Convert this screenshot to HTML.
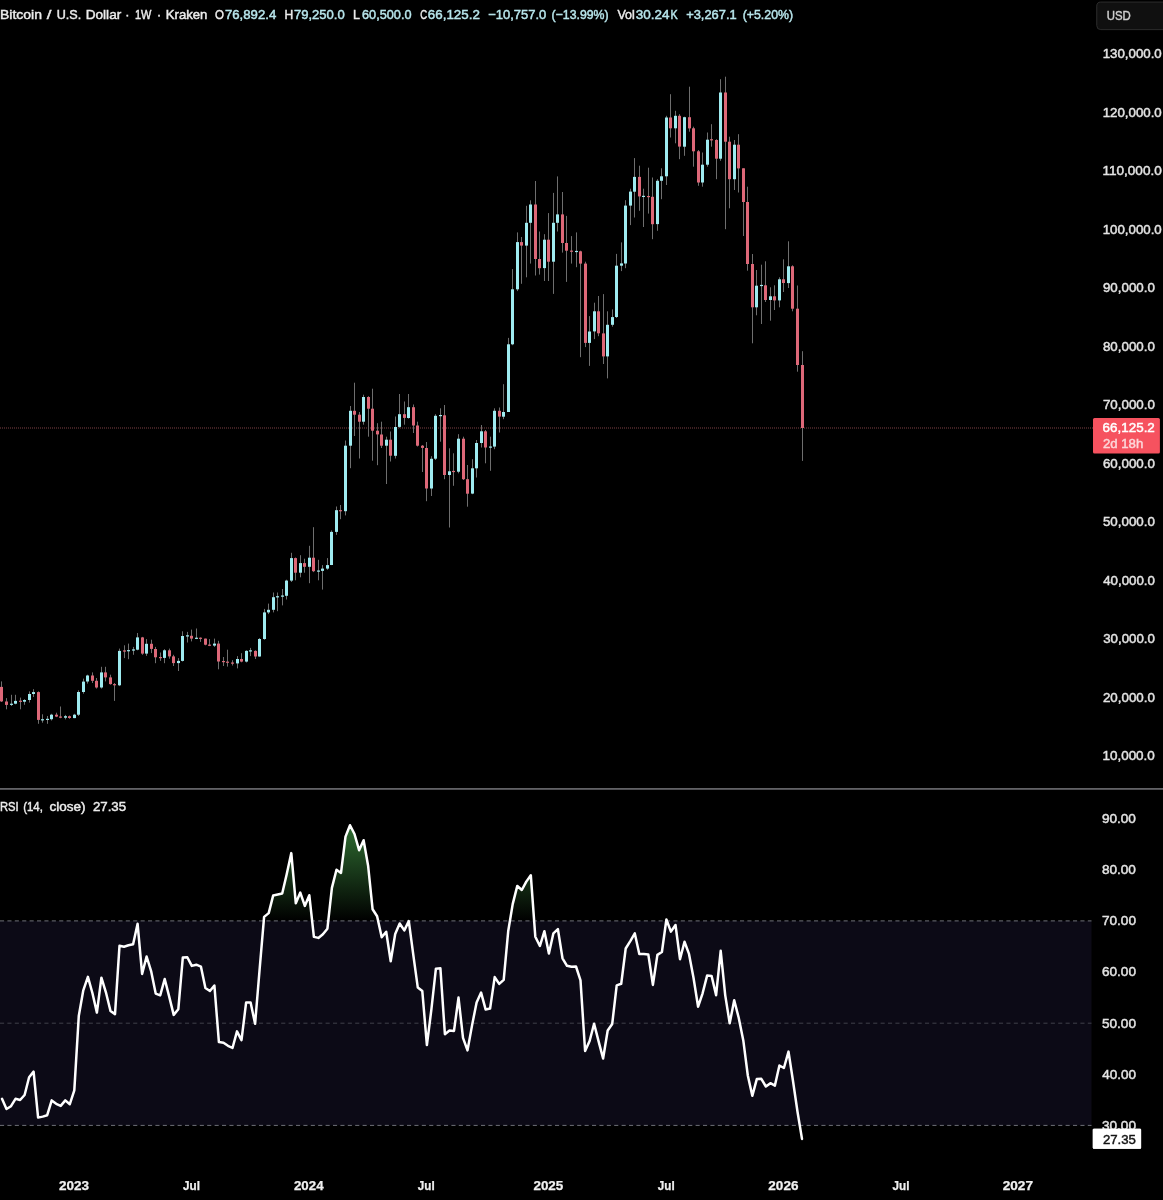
<!DOCTYPE html>
<html lang="en"><head><meta charset="utf-8"><title>BTCUSD 1W Kraken</title>
<style>html,body{margin:0;padding:0;background:#000;}body{width:1163px;height:1200px;overflow:hidden;}svg{display:block;}text{font-family:"Liberation Sans",sans-serif;}</style></head><body>
<svg width="1163" height="1200" viewBox="0 0 1163 1200">
<rect width="1163" height="1200" fill="#000"/>
<defs><linearGradient id="ob" x1="0" y1="767.5" x2="0" y2="920.9" gradientUnits="userSpaceOnUse"><stop offset="0" stop-color="#4caf50" stop-opacity="1"/><stop offset="1" stop-color="#4caf50" stop-opacity="0"/></linearGradient></defs>
<line x1="0" y1="428" x2="1093" y2="428" stroke="#7d4045" stroke-width="1" stroke-dasharray="1 1"/>
<g shape-rendering="auto">
<line x1="1.50" y1="681.4" x2="1.50" y2="702.0" stroke="#6e6e6e" stroke-width="1"/>
<rect x="0.00" y="686.9" width="3" height="14.5" fill="#dd6878"/>
<line x1="6.50" y1="698.1" x2="6.50" y2="709.3" stroke="#6e6e6e" stroke-width="1"/>
<rect x="5.00" y="701.5" width="3" height="3.4" fill="#dd6878"/>
<line x1="11.50" y1="694.8" x2="11.50" y2="706.0" stroke="#6e6e6e" stroke-width="1"/>
<rect x="10.00" y="703.7" width="3" height="1.2" fill="#9eebf0"/>
<line x1="15.50" y1="694.8" x2="15.50" y2="704.3" stroke="#6e6e6e" stroke-width="1"/>
<rect x="14.00" y="700.9" width="3" height="2.8" fill="#9eebf0"/>
<line x1="20.50" y1="697.6" x2="20.50" y2="709.3" stroke="#6e6e6e" stroke-width="1"/>
<rect x="19.00" y="700.7" width="3" height="1.2" fill="#dd6878"/>
<line x1="24.50" y1="699.2" x2="24.50" y2="704.8" stroke="#6e6e6e" stroke-width="1"/>
<rect x="23.00" y="700.0" width="3" height="1.7" fill="#9eebf0"/>
<line x1="29.50" y1="691.4" x2="29.50" y2="702.6" stroke="#6e6e6e" stroke-width="1"/>
<rect x="28.00" y="694.0" width="3" height="6.0" fill="#9eebf0"/>
<line x1="33.50" y1="689.2" x2="33.50" y2="697.0" stroke="#6e6e6e" stroke-width="1"/>
<rect x="32.00" y="692.1" width="3" height="1.9" fill="#9eebf0"/>
<line x1="38.50" y1="691.4" x2="38.50" y2="723.8" stroke="#6e6e6e" stroke-width="1"/>
<rect x="37.00" y="692.1" width="3" height="27.8" fill="#dd6878"/>
<line x1="42.50" y1="714.3" x2="42.50" y2="722.7" stroke="#6e6e6e" stroke-width="1"/>
<rect x="41.00" y="719.2" width="3" height="1.2" fill="#9eebf0"/>
<line x1="47.50" y1="716.0" x2="47.50" y2="723.8" stroke="#6e6e6e" stroke-width="1"/>
<rect x="46.00" y="718.8" width="3" height="1.2" fill="#9eebf0"/>
<line x1="51.50" y1="713.8" x2="51.50" y2="720.5" stroke="#6e6e6e" stroke-width="1"/>
<rect x="50.00" y="714.7" width="3" height="4.5" fill="#9eebf0"/>
<line x1="56.50" y1="712.7" x2="56.50" y2="717.1" stroke="#6e6e6e" stroke-width="1"/>
<rect x="55.00" y="714.7" width="3" height="1.9" fill="#dd6878"/>
<line x1="60.50" y1="706.5" x2="60.50" y2="718.2" stroke="#6e6e6e" stroke-width="1"/>
<rect x="59.00" y="716.5" width="3" height="1.2" fill="#dd6878"/>
<line x1="65.50" y1="714.9" x2="65.50" y2="719.4" stroke="#6e6e6e" stroke-width="1"/>
<rect x="64.00" y="716.2" width="3" height="1.5" fill="#9eebf0"/>
<line x1="69.50" y1="715.5" x2="69.50" y2="718.8" stroke="#6e6e6e" stroke-width="1"/>
<rect x="68.00" y="716.2" width="3" height="1.8" fill="#dd6878"/>
<line x1="74.50" y1="713.8" x2="74.50" y2="718.2" stroke="#6e6e6e" stroke-width="1"/>
<rect x="73.00" y="714.7" width="3" height="3.4" fill="#9eebf0"/>
<line x1="78.50" y1="690.3" x2="78.50" y2="716.0" stroke="#6e6e6e" stroke-width="1"/>
<rect x="77.00" y="692.0" width="3" height="22.7" fill="#9eebf0"/>
<line x1="83.50" y1="678.6" x2="83.50" y2="693.7" stroke="#6e6e6e" stroke-width="1"/>
<rect x="82.00" y="681.6" width="3" height="10.4" fill="#9eebf0"/>
<line x1="87.50" y1="674.7" x2="87.50" y2="683.6" stroke="#6e6e6e" stroke-width="1"/>
<rect x="86.00" y="675.5" width="3" height="6.0" fill="#9eebf0"/>
<line x1="92.50" y1="672.4" x2="92.50" y2="683.0" stroke="#6e6e6e" stroke-width="1"/>
<rect x="91.00" y="675.5" width="3" height="5.3" fill="#dd6878"/>
<line x1="96.50" y1="678.0" x2="96.50" y2="688.6" stroke="#6e6e6e" stroke-width="1"/>
<rect x="95.00" y="680.8" width="3" height="6.7" fill="#dd6878"/>
<line x1="101.50" y1="666.8" x2="101.50" y2="688.6" stroke="#6e6e6e" stroke-width="1"/>
<rect x="100.00" y="672.4" width="3" height="15.1" fill="#9eebf0"/>
<line x1="105.50" y1="666.8" x2="105.50" y2="681.4" stroke="#6e6e6e" stroke-width="1"/>
<rect x="104.00" y="672.4" width="3" height="5.0" fill="#dd6878"/>
<line x1="110.50" y1="674.7" x2="110.50" y2="684.7" stroke="#6e6e6e" stroke-width="1"/>
<rect x="109.00" y="677.4" width="3" height="6.7" fill="#dd6878"/>
<line x1="114.50" y1="683.0" x2="114.50" y2="700.9" stroke="#6e6e6e" stroke-width="1"/>
<rect x="113.00" y="684.1" width="3" height="1.2" fill="#dd6878"/>
<line x1="119.50" y1="648.6" x2="119.50" y2="686.1" stroke="#6e6e6e" stroke-width="1"/>
<rect x="118.00" y="650.9" width="3" height="34.4" fill="#9eebf0"/>
<line x1="124.50" y1="645.3" x2="124.50" y2="658.1" stroke="#6e6e6e" stroke-width="1"/>
<rect x="123.00" y="650.4" width="3" height="1.2" fill="#dd6878"/>
<line x1="128.50" y1="643.6" x2="128.50" y2="659.2" stroke="#6e6e6e" stroke-width="1"/>
<rect x="127.00" y="650.1" width="3" height="1.2" fill="#9eebf0"/>
<line x1="133.50" y1="646.9" x2="133.50" y2="654.8" stroke="#6e6e6e" stroke-width="1"/>
<rect x="132.00" y="649.4" width="3" height="1.2" fill="#9eebf0"/>
<line x1="137.50" y1="633.0" x2="137.50" y2="650.3" stroke="#6e6e6e" stroke-width="1"/>
<rect x="136.00" y="637.4" width="3" height="12.3" fill="#9eebf0"/>
<line x1="142.50" y1="636.9" x2="142.50" y2="654.8" stroke="#6e6e6e" stroke-width="1"/>
<rect x="141.00" y="637.4" width="3" height="16.2" fill="#dd6878"/>
<line x1="146.50" y1="639.1" x2="146.50" y2="655.9" stroke="#6e6e6e" stroke-width="1"/>
<rect x="145.00" y="643.8" width="3" height="9.8" fill="#9eebf0"/>
<line x1="151.50" y1="639.7" x2="151.50" y2="653.1" stroke="#6e6e6e" stroke-width="1"/>
<rect x="150.00" y="643.8" width="3" height="5.1" fill="#dd6878"/>
<line x1="155.50" y1="646.9" x2="155.50" y2="663.2" stroke="#6e6e6e" stroke-width="1"/>
<rect x="154.00" y="649.0" width="3" height="8.3" fill="#dd6878"/>
<line x1="160.50" y1="652.5" x2="160.50" y2="660.9" stroke="#6e6e6e" stroke-width="1"/>
<rect x="159.00" y="657.0" width="3" height="1.2" fill="#dd6878"/>
<line x1="164.50" y1="649.2" x2="164.50" y2="663.2" stroke="#6e6e6e" stroke-width="1"/>
<rect x="163.00" y="650.3" width="3" height="7.6" fill="#9eebf0"/>
<line x1="169.50" y1="648.6" x2="169.50" y2="658.7" stroke="#6e6e6e" stroke-width="1"/>
<rect x="168.00" y="650.3" width="3" height="6.1" fill="#dd6878"/>
<line x1="173.50" y1="654.8" x2="173.50" y2="666.0" stroke="#6e6e6e" stroke-width="1"/>
<rect x="172.00" y="656.4" width="3" height="6.7" fill="#dd6878"/>
<line x1="178.50" y1="658.1" x2="178.50" y2="671.0" stroke="#6e6e6e" stroke-width="1"/>
<rect x="177.00" y="660.9" width="3" height="2.2" fill="#9eebf0"/>
<line x1="182.50" y1="631.3" x2="182.50" y2="661.5" stroke="#6e6e6e" stroke-width="1"/>
<rect x="181.00" y="636.0" width="3" height="24.9" fill="#9eebf0"/>
<line x1="187.50" y1="631.9" x2="187.50" y2="642.5" stroke="#6e6e6e" stroke-width="1"/>
<rect x="186.00" y="635.3" width="3" height="1.2" fill="#9eebf0"/>
<line x1="191.50" y1="629.6" x2="191.50" y2="641.4" stroke="#6e6e6e" stroke-width="1"/>
<rect x="190.00" y="635.8" width="3" height="2.8" fill="#dd6878"/>
<line x1="196.50" y1="628.5" x2="196.50" y2="639.1" stroke="#6e6e6e" stroke-width="1"/>
<rect x="195.00" y="637.7" width="3" height="1.2" fill="#9eebf0"/>
<line x1="200.50" y1="637.4" x2="200.50" y2="641.9" stroke="#6e6e6e" stroke-width="1"/>
<rect x="199.00" y="637.7" width="3" height="1.2" fill="#dd6878"/>
<line x1="205.50" y1="638.6" x2="205.50" y2="645.3" stroke="#6e6e6e" stroke-width="1"/>
<rect x="204.00" y="638.6" width="3" height="6.1" fill="#dd6878"/>
<line x1="209.50" y1="639.1" x2="209.50" y2="646.1" stroke="#6e6e6e" stroke-width="1"/>
<rect x="208.00" y="644.6" width="3" height="1.2" fill="#dd6878"/>
<line x1="214.50" y1="638.6" x2="214.50" y2="646.9" stroke="#6e6e6e" stroke-width="1"/>
<rect x="213.00" y="643.6" width="3" height="2.0" fill="#9eebf0"/>
<line x1="218.50" y1="640.8" x2="218.50" y2="669.3" stroke="#6e6e6e" stroke-width="1"/>
<rect x="217.00" y="643.6" width="3" height="17.9" fill="#dd6878"/>
<line x1="223.50" y1="657.0" x2="223.50" y2="666.0" stroke="#6e6e6e" stroke-width="1"/>
<rect x="222.00" y="661.0" width="3" height="1.2" fill="#dd6878"/>
<line x1="227.50" y1="649.7" x2="227.50" y2="666.6" stroke="#6e6e6e" stroke-width="1"/>
<rect x="226.00" y="661.6" width="3" height="1.2" fill="#dd6878"/>
<line x1="232.50" y1="660.2" x2="232.50" y2="665.5" stroke="#6e6e6e" stroke-width="1"/>
<rect x="231.00" y="662.5" width="3" height="1.2" fill="#dd6878"/>
<line x1="237.50" y1="656.1" x2="237.50" y2="668.4" stroke="#6e6e6e" stroke-width="1"/>
<rect x="236.00" y="659.0" width="3" height="4.4" fill="#9eebf0"/>
<line x1="241.50" y1="653.2" x2="241.50" y2="662.3" stroke="#6e6e6e" stroke-width="1"/>
<rect x="240.00" y="659.0" width="3" height="2.6" fill="#dd6878"/>
<line x1="246.50" y1="650.3" x2="246.50" y2="662.5" stroke="#6e6e6e" stroke-width="1"/>
<rect x="245.00" y="650.9" width="3" height="10.7" fill="#9eebf0"/>
<line x1="250.50" y1="647.9" x2="250.50" y2="656.1" stroke="#6e6e6e" stroke-width="1"/>
<rect x="249.00" y="650.3" width="3" height="1.2" fill="#9eebf0"/>
<line x1="255.50" y1="650.3" x2="255.50" y2="659.0" stroke="#6e6e6e" stroke-width="1"/>
<rect x="254.00" y="650.9" width="3" height="5.6" fill="#dd6878"/>
<line x1="259.50" y1="638.0" x2="259.50" y2="656.7" stroke="#6e6e6e" stroke-width="1"/>
<rect x="258.00" y="639.0" width="3" height="17.5" fill="#9eebf0"/>
<line x1="264.50" y1="608.9" x2="264.50" y2="639.8" stroke="#6e6e6e" stroke-width="1"/>
<rect x="263.00" y="612.4" width="3" height="26.6" fill="#9eebf0"/>
<line x1="268.50" y1="603.6" x2="268.50" y2="614.1" stroke="#6e6e6e" stroke-width="1"/>
<rect x="267.00" y="609.8" width="3" height="2.6" fill="#9eebf0"/>
<line x1="273.50" y1="592.5" x2="273.50" y2="612.4" stroke="#6e6e6e" stroke-width="1"/>
<rect x="272.00" y="597.2" width="3" height="12.6" fill="#9eebf0"/>
<line x1="277.50" y1="592.5" x2="277.50" y2="611.2" stroke="#6e6e6e" stroke-width="1"/>
<rect x="276.00" y="596.2" width="3" height="1.2" fill="#9eebf0"/>
<line x1="282.50" y1="589.0" x2="282.50" y2="605.4" stroke="#6e6e6e" stroke-width="1"/>
<rect x="281.00" y="595.5" width="3" height="1.2" fill="#9eebf0"/>
<line x1="286.50" y1="579.7" x2="286.50" y2="599.5" stroke="#6e6e6e" stroke-width="1"/>
<rect x="285.00" y="580.6" width="3" height="15.2" fill="#9eebf0"/>
<line x1="291.50" y1="552.8" x2="291.50" y2="582.0" stroke="#6e6e6e" stroke-width="1"/>
<rect x="290.00" y="558.1" width="3" height="22.5" fill="#9eebf0"/>
<line x1="295.50" y1="557.5" x2="295.50" y2="580.3" stroke="#6e6e6e" stroke-width="1"/>
<rect x="294.00" y="558.1" width="3" height="14.6" fill="#dd6878"/>
<line x1="300.50" y1="555.2" x2="300.50" y2="577.3" stroke="#6e6e6e" stroke-width="1"/>
<rect x="299.00" y="563.1" width="3" height="9.6" fill="#9eebf0"/>
<line x1="304.50" y1="558.7" x2="304.50" y2="572.7" stroke="#6e6e6e" stroke-width="1"/>
<rect x="303.00" y="563.1" width="3" height="3.7" fill="#dd6878"/>
<line x1="309.50" y1="545.8" x2="309.50" y2="583.2" stroke="#6e6e6e" stroke-width="1"/>
<rect x="308.00" y="557.7" width="3" height="9.1" fill="#9eebf0"/>
<line x1="313.50" y1="527.2" x2="313.50" y2="572.1" stroke="#6e6e6e" stroke-width="1"/>
<rect x="312.00" y="557.7" width="3" height="13.5" fill="#dd6878"/>
<line x1="318.50" y1="559.8" x2="318.50" y2="580.3" stroke="#6e6e6e" stroke-width="1"/>
<rect x="317.00" y="570.5" width="3" height="1.2" fill="#9eebf0"/>
<line x1="322.50" y1="565.1" x2="322.50" y2="589.6" stroke="#6e6e6e" stroke-width="1"/>
<rect x="321.00" y="568.6" width="3" height="2.3" fill="#9eebf0"/>
<line x1="327.50" y1="558.1" x2="327.50" y2="569.8" stroke="#6e6e6e" stroke-width="1"/>
<rect x="326.00" y="565.1" width="3" height="3.5" fill="#9eebf0"/>
<line x1="331.50" y1="530.4" x2="331.50" y2="565.1" stroke="#6e6e6e" stroke-width="1"/>
<rect x="330.00" y="531.9" width="3" height="33.1" fill="#9eebf0"/>
<line x1="336.50" y1="506.5" x2="336.50" y2="534.9" stroke="#6e6e6e" stroke-width="1"/>
<rect x="335.00" y="510.2" width="3" height="21.7" fill="#9eebf0"/>
<line x1="340.50" y1="505.0" x2="340.50" y2="519.2" stroke="#6e6e6e" stroke-width="1"/>
<rect x="339.00" y="510.1" width="3" height="1.2" fill="#dd6878"/>
<line x1="345.50" y1="440.5" x2="345.50" y2="515.4" stroke="#6e6e6e" stroke-width="1"/>
<rect x="344.00" y="445.7" width="3" height="65.5" fill="#9eebf0"/>
<line x1="350.50" y1="406.0" x2="350.50" y2="468.2" stroke="#6e6e6e" stroke-width="1"/>
<rect x="349.00" y="410.8" width="3" height="34.9" fill="#9eebf0"/>
<line x1="354.50" y1="382.7" x2="354.50" y2="436.0" stroke="#6e6e6e" stroke-width="1"/>
<rect x="353.00" y="410.8" width="3" height="3.9" fill="#dd6878"/>
<line x1="359.50" y1="412.0" x2="359.50" y2="458.5" stroke="#6e6e6e" stroke-width="1"/>
<rect x="358.00" y="414.7" width="3" height="7.0" fill="#dd6878"/>
<line x1="363.50" y1="394.7" x2="363.50" y2="424.7" stroke="#6e6e6e" stroke-width="1"/>
<rect x="362.00" y="397.0" width="3" height="24.7" fill="#9eebf0"/>
<line x1="368.50" y1="396.2" x2="368.50" y2="436.7" stroke="#6e6e6e" stroke-width="1"/>
<rect x="367.00" y="397.0" width="3" height="11.7" fill="#dd6878"/>
<line x1="372.50" y1="388.7" x2="372.50" y2="460.7" stroke="#6e6e6e" stroke-width="1"/>
<rect x="371.00" y="408.7" width="3" height="22.0" fill="#dd6878"/>
<line x1="377.50" y1="423.2" x2="377.50" y2="465.2" stroke="#6e6e6e" stroke-width="1"/>
<rect x="376.00" y="430.7" width="3" height="3.7" fill="#dd6878"/>
<line x1="381.50" y1="421.7" x2="381.50" y2="448.0" stroke="#6e6e6e" stroke-width="1"/>
<rect x="380.00" y="434.5" width="3" height="11.2" fill="#dd6878"/>
<line x1="386.50" y1="436.7" x2="386.50" y2="484.0" stroke="#6e6e6e" stroke-width="1"/>
<rect x="385.00" y="439.7" width="3" height="6.0" fill="#9eebf0"/>
<line x1="390.50" y1="431.5" x2="390.50" y2="461.5" stroke="#6e6e6e" stroke-width="1"/>
<rect x="389.00" y="439.7" width="3" height="16.0" fill="#dd6878"/>
<line x1="395.50" y1="416.5" x2="395.50" y2="458.5" stroke="#6e6e6e" stroke-width="1"/>
<rect x="394.00" y="427.0" width="3" height="28.8" fill="#9eebf0"/>
<line x1="399.50" y1="394.0" x2="399.50" y2="427.7" stroke="#6e6e6e" stroke-width="1"/>
<rect x="398.00" y="414.2" width="3" height="12.7" fill="#9eebf0"/>
<line x1="404.50" y1="401.5" x2="404.50" y2="424.7" stroke="#6e6e6e" stroke-width="1"/>
<rect x="403.00" y="414.2" width="3" height="3.7" fill="#dd6878"/>
<line x1="408.50" y1="394.0" x2="408.50" y2="418.7" stroke="#6e6e6e" stroke-width="1"/>
<rect x="407.00" y="407.2" width="3" height="10.8" fill="#9eebf0"/>
<line x1="413.50" y1="404.5" x2="413.50" y2="433.0" stroke="#6e6e6e" stroke-width="1"/>
<rect x="412.00" y="407.2" width="3" height="18.3" fill="#dd6878"/>
<line x1="417.50" y1="421.7" x2="417.50" y2="446.5" stroke="#6e6e6e" stroke-width="1"/>
<rect x="416.00" y="425.5" width="3" height="20.2" fill="#dd6878"/>
<line x1="422.50" y1="445.0" x2="422.50" y2="472.0" stroke="#6e6e6e" stroke-width="1"/>
<rect x="421.00" y="445.7" width="3" height="2.2" fill="#dd6878"/>
<line x1="426.50" y1="442.0" x2="426.50" y2="501.2" stroke="#6e6e6e" stroke-width="1"/>
<rect x="425.00" y="448.0" width="3" height="40.5" fill="#dd6878"/>
<line x1="431.50" y1="456.2" x2="431.50" y2="496.0" stroke="#6e6e6e" stroke-width="1"/>
<rect x="430.00" y="458.8" width="3" height="29.7" fill="#9eebf0"/>
<line x1="435.50" y1="414.2" x2="435.50" y2="460.0" stroke="#6e6e6e" stroke-width="1"/>
<rect x="434.00" y="415.8" width="3" height="42.9" fill="#9eebf0"/>
<line x1="440.50" y1="408.3" x2="440.50" y2="441.7" stroke="#6e6e6e" stroke-width="1"/>
<rect x="439.00" y="415.0" width="3" height="1.2" fill="#9eebf0"/>
<line x1="444.50" y1="405.0" x2="444.50" y2="479.2" stroke="#6e6e6e" stroke-width="1"/>
<rect x="443.00" y="415.3" width="3" height="59.7" fill="#dd6878"/>
<line x1="449.50" y1="448.3" x2="449.50" y2="527.5" stroke="#6e6e6e" stroke-width="1"/>
<rect x="448.00" y="471.3" width="3" height="3.7" fill="#9eebf0"/>
<line x1="453.50" y1="453.3" x2="453.50" y2="485.8" stroke="#6e6e6e" stroke-width="1"/>
<rect x="452.00" y="470.9" width="3" height="1.2" fill="#dd6878"/>
<line x1="458.50" y1="434.2" x2="458.50" y2="473.3" stroke="#6e6e6e" stroke-width="1"/>
<rect x="457.00" y="438.7" width="3" height="33.0" fill="#9eebf0"/>
<line x1="463.50" y1="436.7" x2="463.50" y2="480.0" stroke="#6e6e6e" stroke-width="1"/>
<rect x="462.00" y="438.7" width="3" height="40.5" fill="#dd6878"/>
<line x1="467.50" y1="465.0" x2="467.50" y2="506.7" stroke="#6e6e6e" stroke-width="1"/>
<rect x="466.00" y="479.2" width="3" height="14.5" fill="#dd6878"/>
<line x1="472.50" y1="459.2" x2="472.50" y2="494.2" stroke="#6e6e6e" stroke-width="1"/>
<rect x="471.00" y="468.3" width="3" height="25.3" fill="#9eebf0"/>
<line x1="476.50" y1="440.0" x2="476.50" y2="477.5" stroke="#6e6e6e" stroke-width="1"/>
<rect x="475.00" y="443.0" width="3" height="25.3" fill="#9eebf0"/>
<line x1="481.50" y1="425.0" x2="481.50" y2="447.5" stroke="#6e6e6e" stroke-width="1"/>
<rect x="480.00" y="431.3" width="3" height="11.7" fill="#9eebf0"/>
<line x1="485.50" y1="430.0" x2="485.50" y2="463.3" stroke="#6e6e6e" stroke-width="1"/>
<rect x="484.00" y="431.3" width="3" height="16.2" fill="#dd6878"/>
<line x1="490.50" y1="436.7" x2="490.50" y2="470.8" stroke="#6e6e6e" stroke-width="1"/>
<rect x="489.00" y="446.5" width="3" height="1.2" fill="#9eebf0"/>
<line x1="494.50" y1="408.3" x2="494.50" y2="449.2" stroke="#6e6e6e" stroke-width="1"/>
<rect x="493.00" y="410.8" width="3" height="35.8" fill="#9eebf0"/>
<line x1="499.50" y1="407.5" x2="499.50" y2="432.5" stroke="#6e6e6e" stroke-width="1"/>
<rect x="498.00" y="410.8" width="3" height="5.8" fill="#dd6878"/>
<line x1="503.50" y1="384.2" x2="503.50" y2="419.2" stroke="#6e6e6e" stroke-width="1"/>
<rect x="502.00" y="412.0" width="3" height="4.7" fill="#9eebf0"/>
<line x1="508.50" y1="337.9" x2="508.50" y2="412.0" stroke="#6e6e6e" stroke-width="1"/>
<rect x="507.00" y="344.3" width="3" height="67.7" fill="#9eebf0"/>
<line x1="512.50" y1="269.1" x2="512.50" y2="345.2" stroke="#6e6e6e" stroke-width="1"/>
<rect x="511.00" y="289.3" width="3" height="55.0" fill="#9eebf0"/>
<line x1="517.50" y1="232.4" x2="517.50" y2="291.1" stroke="#6e6e6e" stroke-width="1"/>
<rect x="516.00" y="242.1" width="3" height="47.2" fill="#9eebf0"/>
<line x1="521.50" y1="237.0" x2="521.50" y2="283.8" stroke="#6e6e6e" stroke-width="1"/>
<rect x="520.00" y="242.1" width="3" height="3.5" fill="#dd6878"/>
<line x1="526.50" y1="205.8" x2="526.50" y2="277.3" stroke="#6e6e6e" stroke-width="1"/>
<rect x="525.00" y="222.8" width="3" height="22.8" fill="#9eebf0"/>
<line x1="530.50" y1="200.3" x2="530.50" y2="263.6" stroke="#6e6e6e" stroke-width="1"/>
<rect x="529.00" y="204.5" width="3" height="18.3" fill="#9eebf0"/>
<line x1="535.50" y1="181.0" x2="535.50" y2="275.5" stroke="#6e6e6e" stroke-width="1"/>
<rect x="534.00" y="204.5" width="3" height="54.5" fill="#dd6878"/>
<line x1="539.50" y1="231.5" x2="539.50" y2="274.6" stroke="#6e6e6e" stroke-width="1"/>
<rect x="538.00" y="259.0" width="3" height="9.2" fill="#dd6878"/>
<line x1="544.50" y1="234.2" x2="544.50" y2="281.0" stroke="#6e6e6e" stroke-width="1"/>
<rect x="543.00" y="239.7" width="3" height="28.4" fill="#9eebf0"/>
<line x1="548.50" y1="213.1" x2="548.50" y2="281.0" stroke="#6e6e6e" stroke-width="1"/>
<rect x="547.00" y="239.7" width="3" height="22.0" fill="#dd6878"/>
<line x1="553.50" y1="192.9" x2="553.50" y2="293.9" stroke="#6e6e6e" stroke-width="1"/>
<rect x="552.00" y="222.8" width="3" height="38.9" fill="#9eebf0"/>
<line x1="557.50" y1="176.4" x2="557.50" y2="231.5" stroke="#6e6e6e" stroke-width="1"/>
<rect x="556.00" y="214.4" width="3" height="8.4" fill="#9eebf0"/>
<line x1="562.50" y1="192.0" x2="562.50" y2="252.6" stroke="#6e6e6e" stroke-width="1"/>
<rect x="561.00" y="214.4" width="3" height="28.6" fill="#dd6878"/>
<line x1="566.50" y1="215.9" x2="566.50" y2="281.9" stroke="#6e6e6e" stroke-width="1"/>
<rect x="565.00" y="243.0" width="3" height="7.7" fill="#dd6878"/>
<line x1="571.50" y1="236.1" x2="571.50" y2="263.6" stroke="#6e6e6e" stroke-width="1"/>
<rect x="570.00" y="250.6" width="3" height="1.2" fill="#dd6878"/>
<line x1="576.50" y1="232.4" x2="576.50" y2="267.2" stroke="#6e6e6e" stroke-width="1"/>
<rect x="575.00" y="250.9" width="3" height="1.2" fill="#9eebf0"/>
<line x1="580.50" y1="250.7" x2="580.50" y2="357.2" stroke="#6e6e6e" stroke-width="1"/>
<rect x="579.00" y="251.3" width="3" height="12.3" fill="#dd6878"/>
<line x1="585.50" y1="261.7" x2="585.50" y2="347.1" stroke="#6e6e6e" stroke-width="1"/>
<rect x="584.00" y="263.6" width="3" height="79.3" fill="#dd6878"/>
<line x1="589.50" y1="316.1" x2="589.50" y2="365.9" stroke="#6e6e6e" stroke-width="1"/>
<rect x="588.00" y="331.5" width="3" height="11.4" fill="#9eebf0"/>
<line x1="594.50" y1="302.7" x2="594.50" y2="339.1" stroke="#6e6e6e" stroke-width="1"/>
<rect x="593.00" y="311.3" width="3" height="20.1" fill="#9eebf0"/>
<line x1="598.50" y1="296.0" x2="598.50" y2="336.2" stroke="#6e6e6e" stroke-width="1"/>
<rect x="597.00" y="311.3" width="3" height="22.0" fill="#dd6878"/>
<line x1="603.50" y1="294.1" x2="603.50" y2="364.0" stroke="#6e6e6e" stroke-width="1"/>
<rect x="602.00" y="333.4" width="3" height="23.0" fill="#dd6878"/>
<line x1="607.50" y1="311.3" x2="607.50" y2="378.4" stroke="#6e6e6e" stroke-width="1"/>
<rect x="606.00" y="324.8" width="3" height="31.6" fill="#9eebf0"/>
<line x1="612.50" y1="309.4" x2="612.50" y2="326.7" stroke="#6e6e6e" stroke-width="1"/>
<rect x="611.00" y="317.1" width="3" height="7.7" fill="#9eebf0"/>
<line x1="616.50" y1="253.9" x2="616.50" y2="318.0" stroke="#6e6e6e" stroke-width="1"/>
<rect x="615.00" y="265.7" width="3" height="51.3" fill="#9eebf0"/>
<line x1="621.50" y1="242.4" x2="621.50" y2="271.1" stroke="#6e6e6e" stroke-width="1"/>
<rect x="620.00" y="263.4" width="3" height="2.3" fill="#9eebf0"/>
<line x1="625.50" y1="200.2" x2="625.50" y2="268.2" stroke="#6e6e6e" stroke-width="1"/>
<rect x="624.00" y="205.6" width="3" height="57.9" fill="#9eebf0"/>
<line x1="630.50" y1="188.7" x2="630.50" y2="225.1" stroke="#6e6e6e" stroke-width="1"/>
<rect x="629.00" y="191.6" width="3" height="14.0" fill="#9eebf0"/>
<line x1="634.50" y1="158.1" x2="634.50" y2="217.5" stroke="#6e6e6e" stroke-width="1"/>
<rect x="633.00" y="176.9" width="3" height="14.8" fill="#9eebf0"/>
<line x1="639.50" y1="165.7" x2="639.50" y2="210.8" stroke="#6e6e6e" stroke-width="1"/>
<rect x="638.00" y="176.9" width="3" height="19.5" fill="#dd6878"/>
<line x1="643.50" y1="188.7" x2="643.50" y2="227.0" stroke="#6e6e6e" stroke-width="1"/>
<rect x="642.00" y="195.8" width="3" height="1.2" fill="#9eebf0"/>
<line x1="648.50" y1="167.7" x2="648.50" y2="213.6" stroke="#6e6e6e" stroke-width="1"/>
<rect x="647.00" y="196.0" width="3" height="1.2" fill="#dd6878"/>
<line x1="652.50" y1="177.5" x2="652.50" y2="239.2" stroke="#6e6e6e" stroke-width="1"/>
<rect x="651.00" y="196.8" width="3" height="27.4" fill="#dd6878"/>
<line x1="657.50" y1="179.2" x2="657.50" y2="230.8" stroke="#6e6e6e" stroke-width="1"/>
<rect x="656.00" y="180.8" width="3" height="43.3" fill="#9eebf0"/>
<line x1="661.50" y1="168.3" x2="661.50" y2="199.2" stroke="#6e6e6e" stroke-width="1"/>
<rect x="660.00" y="176.3" width="3" height="4.5" fill="#9eebf0"/>
<line x1="666.50" y1="115.8" x2="666.50" y2="185.0" stroke="#6e6e6e" stroke-width="1"/>
<rect x="665.00" y="117.5" width="3" height="58.8" fill="#9eebf0"/>
<line x1="670.50" y1="94.2" x2="670.50" y2="137.5" stroke="#6e6e6e" stroke-width="1"/>
<rect x="669.00" y="117.5" width="3" height="10.8" fill="#dd6878"/>
<line x1="675.50" y1="110.8" x2="675.50" y2="143.3" stroke="#6e6e6e" stroke-width="1"/>
<rect x="674.00" y="115.8" width="3" height="12.5" fill="#9eebf0"/>
<line x1="679.50" y1="114.2" x2="679.50" y2="159.2" stroke="#6e6e6e" stroke-width="1"/>
<rect x="678.00" y="115.8" width="3" height="30.8" fill="#dd6878"/>
<line x1="684.50" y1="116.7" x2="684.50" y2="155.8" stroke="#6e6e6e" stroke-width="1"/>
<rect x="683.00" y="117.2" width="3" height="29.5" fill="#9eebf0"/>
<line x1="689.50" y1="86.7" x2="689.50" y2="131.7" stroke="#6e6e6e" stroke-width="1"/>
<rect x="688.00" y="117.2" width="3" height="11.2" fill="#dd6878"/>
<line x1="693.50" y1="126.7" x2="693.50" y2="166.7" stroke="#6e6e6e" stroke-width="1"/>
<rect x="692.00" y="128.3" width="3" height="23.0" fill="#dd6878"/>
<line x1="698.50" y1="150.0" x2="698.50" y2="185.8" stroke="#6e6e6e" stroke-width="1"/>
<rect x="697.00" y="151.3" width="3" height="31.2" fill="#dd6878"/>
<line x1="702.50" y1="152.5" x2="702.50" y2="186.7" stroke="#6e6e6e" stroke-width="1"/>
<rect x="701.00" y="164.7" width="3" height="17.8" fill="#9eebf0"/>
<line x1="707.50" y1="132.5" x2="707.50" y2="166.7" stroke="#6e6e6e" stroke-width="1"/>
<rect x="706.00" y="139.7" width="3" height="25.0" fill="#9eebf0"/>
<line x1="711.50" y1="124.2" x2="711.50" y2="146.7" stroke="#6e6e6e" stroke-width="1"/>
<rect x="710.00" y="139.2" width="3" height="1.2" fill="#dd6878"/>
<line x1="716.50" y1="139.2" x2="716.50" y2="179.2" stroke="#6e6e6e" stroke-width="1"/>
<rect x="715.00" y="140.0" width="3" height="18.7" fill="#dd6878"/>
<line x1="720.50" y1="79.2" x2="720.50" y2="160.8" stroke="#6e6e6e" stroke-width="1"/>
<rect x="719.00" y="92.5" width="3" height="66.2" fill="#9eebf0"/>
<line x1="725.50" y1="76.7" x2="725.50" y2="229.2" stroke="#6e6e6e" stroke-width="1"/>
<rect x="724.00" y="92.5" width="3" height="49.2" fill="#dd6878"/>
<line x1="729.50" y1="136.7" x2="729.50" y2="208.3" stroke="#6e6e6e" stroke-width="1"/>
<rect x="728.00" y="141.7" width="3" height="37.5" fill="#dd6878"/>
<line x1="734.50" y1="140.0" x2="734.50" y2="190.0" stroke="#6e6e6e" stroke-width="1"/>
<rect x="733.00" y="144.7" width="3" height="34.5" fill="#9eebf0"/>
<line x1="738.50" y1="134.2" x2="738.50" y2="192.5" stroke="#6e6e6e" stroke-width="1"/>
<rect x="737.00" y="144.7" width="3" height="23.7" fill="#dd6878"/>
<line x1="743.50" y1="168.3" x2="743.50" y2="236.0" stroke="#6e6e6e" stroke-width="1"/>
<rect x="742.00" y="168.3" width="3" height="33.7" fill="#dd6878"/>
<line x1="747.50" y1="186.7" x2="747.50" y2="270.7" stroke="#6e6e6e" stroke-width="1"/>
<rect x="746.00" y="202.0" width="3" height="62.0" fill="#dd6878"/>
<line x1="752.50" y1="254.0" x2="752.50" y2="343.3" stroke="#6e6e6e" stroke-width="1"/>
<rect x="751.00" y="264.0" width="3" height="43.3" fill="#dd6878"/>
<line x1="756.50" y1="270.0" x2="756.50" y2="315.3" stroke="#6e6e6e" stroke-width="1"/>
<rect x="755.00" y="285.7" width="3" height="21.6" fill="#9eebf0"/>
<line x1="761.50" y1="264.7" x2="761.50" y2="324.0" stroke="#6e6e6e" stroke-width="1"/>
<rect x="760.00" y="284.9" width="3" height="1.2" fill="#9eebf0"/>
<line x1="765.50" y1="261.3" x2="765.50" y2="302.0" stroke="#6e6e6e" stroke-width="1"/>
<rect x="764.00" y="285.3" width="3" height="14.7" fill="#dd6878"/>
<line x1="770.50" y1="287.3" x2="770.50" y2="320.7" stroke="#6e6e6e" stroke-width="1"/>
<rect x="769.00" y="296.3" width="3" height="3.7" fill="#9eebf0"/>
<line x1="774.50" y1="285.3" x2="774.50" y2="310.0" stroke="#6e6e6e" stroke-width="1"/>
<rect x="773.00" y="296.3" width="3" height="4.1" fill="#dd6878"/>
<line x1="779.50" y1="277.3" x2="779.50" y2="307.3" stroke="#6e6e6e" stroke-width="1"/>
<rect x="778.00" y="279.3" width="3" height="21.1" fill="#9eebf0"/>
<line x1="783.50" y1="259.3" x2="783.50" y2="292.0" stroke="#6e6e6e" stroke-width="1"/>
<rect x="782.00" y="279.3" width="3" height="3.7" fill="#dd6878"/>
<line x1="788.50" y1="241.3" x2="788.50" y2="288.0" stroke="#6e6e6e" stroke-width="1"/>
<rect x="787.00" y="266.3" width="3" height="16.8" fill="#9eebf0"/>
<line x1="792.50" y1="265.3" x2="792.50" y2="311.3" stroke="#6e6e6e" stroke-width="1"/>
<rect x="791.00" y="266.3" width="3" height="42.4" fill="#dd6878"/>
<line x1="797.50" y1="285.5" x2="797.50" y2="371.7" stroke="#6e6e6e" stroke-width="1"/>
<rect x="796.00" y="308.7" width="3" height="56.3" fill="#dd6878"/>
<line x1="802.50" y1="351.2" x2="802.50" y2="460.9" stroke="#6e6e6e" stroke-width="1"/>
<rect x="801.00" y="365.0" width="3" height="63.0" fill="#dd6878"/>
</g>
<rect x="0" y="788" width="1163" height="1.8" fill="#626266"/>
<rect x="0" y="920.9" width="1091.5" height="204.5" fill="#0c0a16"/>
<polygon points="263.8,920.9 264.1,916.9 268.7,913.1 273.2,895.4 277.7,894.5 282.2,893.5 286.7,874.2 291.3,853.1 295.8,903.3 300.3,892.6 304.8,905.9 309.3,895.2 312.1,920.9" fill="url(#ob)"/>
<polygon points="328.3,920.9 331.9,887.9 336.5,869.7 341.0,872.9 345.5,836.6 350.0,825.2 354.5,834.0 359.1,850.2 363.6,840.2 368.1,865.7 372.6,909.3 377.1,916.3 378.1,920.9" fill="url(#ob)"/>
<polygon points="509.9,920.9 512.7,904.1 517.3,885.9 521.8,890.0 526.3,881.6 530.8,875.2 534.2,920.9" fill="url(#ob)"/>
<polygon points="666.2,920.9 666.4,919.5 667.0,920.9" fill="url(#ob)"/>
<line x1="0" y1="920.9" x2="1091.5" y2="920.9" stroke="#6e7078" stroke-width="1" stroke-dasharray="4.1 3.3"/>
<line x1="0" y1="1023.2" x2="1091.5" y2="1023.2" stroke="#40414a" stroke-width="1" stroke-dasharray="4.1 3.3"/>
<line x1="0" y1="1125.4" x2="1091.5" y2="1125.4" stroke="#6e7078" stroke-width="1" stroke-dasharray="4.1 3.3"/>
<polyline points="2.0,1098.8 6.5,1109.0 11.0,1106.2 15.5,1098.8 20.1,1100.0 24.6,1095.0 29.1,1077.2 33.6,1071.6 38.1,1117.6 42.7,1116.6 47.2,1115.2 51.7,1100.4 56.2,1103.8 60.7,1105.9 65.3,1100.4 69.8,1104.2 74.3,1090.3 78.8,1015.7 83.3,990.3 87.9,976.9 92.4,993.0 96.9,1012.6 101.4,977.7 105.9,992.3 110.5,1011.0 115.0,1014.1 119.5,945.8 124.0,946.8 128.5,945.3 133.1,944.3 137.6,923.8 142.1,973.9 146.6,956.5 151.1,971.1 155.7,993.6 160.2,995.4 164.7,979.0 169.2,996.6 173.7,1014.9 178.3,1009.3 182.8,957.6 187.3,957.2 191.8,965.9 196.3,964.7 200.9,966.6 205.4,988.0 209.9,991.0 214.4,985.5 218.9,1042.1 223.5,1042.7 228.0,1045.8 232.5,1048.0 237.0,1031.4 241.5,1040.2 246.1,1002.6 250.6,1002.6 255.1,1023.8 259.6,969.5 264.1,916.9 268.7,913.1 273.2,895.4 277.7,894.5 282.2,893.5 286.7,874.2 291.3,853.1 295.8,903.3 300.3,892.6 304.8,905.9 309.3,895.2 313.9,936.9 318.4,937.9 322.9,934.3 327.4,928.7 331.9,887.9 336.5,869.7 341.0,872.9 345.5,836.6 350.0,825.2 354.5,834.0 359.1,850.2 363.6,840.2 368.1,865.7 372.6,909.3 377.1,916.3 381.7,937.3 386.2,931.8 390.7,961.2 395.2,934.0 399.7,923.5 404.3,930.4 408.8,921.1 413.3,954.9 417.8,987.6 422.3,991.1 426.9,1045.1 431.4,1009.3 435.9,968.7 440.4,968.3 444.9,1034.2 449.5,1030.5 454.0,1030.9 458.5,997.6 463.0,1037.8 467.5,1050.4 472.1,1025.1 476.6,1002.5 481.1,992.6 485.6,1009.4 490.1,1008.6 494.7,977.1 499.2,983.9 503.7,979.8 508.2,931.3 512.7,904.1 517.3,885.9 521.8,890.0 526.3,881.6 530.8,875.2 535.3,936.7 539.9,946.0 544.4,931.2 548.9,953.6 553.4,933.3 557.9,929.2 562.5,958.3 567.0,965.8 571.5,966.8 576.0,966.5 580.5,980.4 585.1,1051.0 589.6,1041.0 594.1,1023.8 598.6,1041.4 603.1,1058.5 607.7,1030.5 612.2,1024.0 616.7,985.4 621.2,983.8 625.7,948.5 630.3,941.1 634.8,933.4 639.3,953.9 643.8,953.9 648.3,954.4 652.9,984.9 657.4,954.9 661.9,952.0 666.4,919.5 670.9,931.6 675.5,925.0 680.0,959.2 684.5,941.8 689.0,953.9 693.5,977.7 698.1,1006.7 702.6,993.3 707.1,975.6 711.6,976.0 716.1,995.2 720.7,950.8 725.2,995.1 729.7,1023.3 734.2,1000.3 738.7,1017.7 743.3,1040.4 747.8,1075.5 752.3,1095.8 756.8,1079.1 761.3,1078.8 765.9,1086.5 770.4,1083.2 774.9,1085.6 779.4,1065.5 783.9,1068.0 788.5,1051.6 793.0,1081.0 797.5,1111.8 802.0,1138.9" fill="none" stroke="#fff" stroke-width="2.5" stroke-linejoin="round" stroke-linecap="round"/>
<rect x="1096.75" y="2.05" width="80" height="27.55" rx="4" ry="4" fill="#101010" stroke="#2c2c2c" stroke-width="1"/>
<rect x="1093" y="418.1" width="66.9" height="35.4" rx="1.5" fill="#f6525f"/>
<rect x="1092.8" y="1128.8" width="48.3" height="19.9" rx="1" fill="#ffffff"/>
<text y="18.9" font-size="13" stroke-width="0.45" xml:space="preserve"><tspan x="-0.05" fill="#ececec" stroke="#ececec" textLength="41.96" lengthAdjust="spacingAndGlyphs">Bitcoin</tspan> <tspan x="46.65" fill="#ececec" stroke="#ececec" textLength="4.64" lengthAdjust="spacingAndGlyphs">/</tspan> <tspan x="56.69" fill="#ececec" stroke="#ececec" textLength="24.47" lengthAdjust="spacingAndGlyphs">U.S.</tspan> <tspan x="85.66" fill="#ececec" stroke="#ececec" textLength="35.64" lengthAdjust="spacingAndGlyphs">Dollar</tspan> <tspan x="125.15" fill="#ececec" stroke="#ececec" textLength="4.23" lengthAdjust="spacingAndGlyphs">·</tspan> <tspan x="135.03" fill="#ececec" stroke="#ececec" textLength="16.43" lengthAdjust="spacingAndGlyphs">1W</tspan> <tspan x="156.69" fill="#ececec" stroke="#ececec" textLength="4.63" lengthAdjust="spacingAndGlyphs">·</tspan> <tspan x="165.74" fill="#ececec" stroke="#ececec" textLength="41.66" lengthAdjust="spacingAndGlyphs">Kraken</tspan>  <tspan x="214.96" fill="#ececec" stroke="#ececec" textLength="8.97" lengthAdjust="spacingAndGlyphs">O</tspan><tspan x="224.95" fill="#b8e6ec" stroke="#b8e6ec" textLength="51.35" lengthAdjust="spacingAndGlyphs">76,892.4</tspan>  <tspan x="284.38" fill="#ececec" stroke="#ececec" textLength="8.70" lengthAdjust="spacingAndGlyphs">H</tspan><tspan x="293.95" fill="#b8e6ec" stroke="#b8e6ec" textLength="50.80" lengthAdjust="spacingAndGlyphs">79,250.0</tspan>  <tspan x="352.98" fill="#ececec" stroke="#ececec" textLength="6.92" lengthAdjust="spacingAndGlyphs">L</tspan><tspan x="362.05" fill="#b8e6ec" stroke="#b8e6ec" textLength="49.49" lengthAdjust="spacingAndGlyphs">60,500.0</tspan>  <tspan x="420.19" fill="#ececec" stroke="#ececec" textLength="6.89" lengthAdjust="spacingAndGlyphs">C</tspan><tspan x="427.85" fill="#b8e6ec" stroke="#b8e6ec" textLength="51.99" lengthAdjust="spacingAndGlyphs">66,125.2</tspan>  <tspan x="488.15" fill="#b8e6ec" stroke="#b8e6ec" textLength="58.19" lengthAdjust="spacingAndGlyphs">−10,757.0</tspan> <tspan x="551.60" fill="#b8e6ec" stroke="#b8e6ec" textLength="57.00" lengthAdjust="spacingAndGlyphs">(−13.99%)</tspan>  <tspan x="617.44" fill="#ececec" stroke="#ececec" textLength="17.34" lengthAdjust="spacingAndGlyphs">Vol</tspan><tspan x="635.71" fill="#b8e6ec" stroke="#b8e6ec" textLength="33.69" lengthAdjust="spacingAndGlyphs">30.24</tspan> <tspan x="670.45" fill="#b8e6ec" stroke="#b8e6ec" textLength="7.21" lengthAdjust="spacingAndGlyphs">K</tspan>  <tspan x="686.15" fill="#b8e6ec" stroke="#b8e6ec" textLength="50.59" lengthAdjust="spacingAndGlyphs">+3,267.1</tspan> <tspan x="742.70" fill="#b8e6ec" stroke="#b8e6ec" textLength="50.40" lengthAdjust="spacingAndGlyphs">(+5.20%)</tspan></text>
<text y="810.7" font-size="12.7" stroke-width="0.45" xml:space="preserve"><tspan x="-0.01" fill="#ececec" stroke="#ececec" textLength="18.68" lengthAdjust="spacingAndGlyphs">RSI</tspan> <tspan x="23.15" fill="#ececec" stroke="#ececec" textLength="19.70" lengthAdjust="spacingAndGlyphs">(14,</tspan> <tspan x="49.45" fill="#ececec" stroke="#ececec" textLength="36.05" lengthAdjust="spacingAndGlyphs">close)</tspan>  <tspan x="92.95" fill="#ececec" stroke="#ececec" textLength="33.19" lengthAdjust="spacingAndGlyphs">27.35</tspan></text>
<text x="1106.81" y="20.3" font-size="13" font-weight="normal" fill="#cfcfcf" stroke="#cfcfcf" stroke-width="0.45" textLength="24.04" lengthAdjust="spacingAndGlyphs">USD</text>
<text x="1102.55" y="431.9" font-size="12.7" font-weight="normal" fill="#ffffff" stroke="#ffffff" stroke-width="0.45" textLength="52.29" lengthAdjust="spacingAndGlyphs">66,125.2</text>
<text x="1102.95" y="447.5" font-size="12.7" font-weight="normal" fill="#fcd6d9" stroke="#fcd6d9" stroke-width="0.45" textLength="40.35" lengthAdjust="spacingAndGlyphs">2d 18h</text>
<text x="1102.70" y="58.0" font-size="12.7" font-weight="normal" fill="#e4e4e4" stroke="#e4e4e4" stroke-width="0.45" textLength="59.05" lengthAdjust="spacingAndGlyphs">130,000.0</text>
<text x="1102.70" y="116.51" font-size="12.7" font-weight="normal" fill="#e4e4e4" stroke="#e4e4e4" stroke-width="0.45" textLength="59.05" lengthAdjust="spacingAndGlyphs">120,000.0</text>
<text x="1102.45" y="175.02" font-size="12.7" font-weight="normal" fill="#e4e4e4" stroke="#e4e4e4" stroke-width="0.45" textLength="59.30" lengthAdjust="spacingAndGlyphs">110,000.0</text>
<text x="1102.70" y="233.53" font-size="12.7" font-weight="normal" fill="#e4e4e4" stroke="#e4e4e4" stroke-width="0.45" textLength="59.05" lengthAdjust="spacingAndGlyphs">100,000.0</text>
<text x="1102.95" y="292.04" font-size="12.7" font-weight="normal" fill="#e4e4e4" stroke="#e4e4e4" stroke-width="0.45" textLength="51.89" lengthAdjust="spacingAndGlyphs">90,000.0</text>
<text x="1102.95" y="350.55" font-size="12.7" font-weight="normal" fill="#e4e4e4" stroke="#e4e4e4" stroke-width="0.45" textLength="51.89" lengthAdjust="spacingAndGlyphs">80,000.0</text>
<text x="1102.95" y="409.06" font-size="12.7" font-weight="normal" fill="#e4e4e4" stroke="#e4e4e4" stroke-width="0.45" textLength="51.89" lengthAdjust="spacingAndGlyphs">70,000.0</text>
<text x="1102.95" y="467.57" font-size="12.7" font-weight="normal" fill="#e4e4e4" stroke="#e4e4e4" stroke-width="0.45" textLength="51.89" lengthAdjust="spacingAndGlyphs">60,000.0</text>
<text x="1102.95" y="526.08" font-size="12.7" font-weight="normal" fill="#e4e4e4" stroke="#e4e4e4" stroke-width="0.45" textLength="51.89" lengthAdjust="spacingAndGlyphs">50,000.0</text>
<text x="1103.20" y="584.59" font-size="12.7" font-weight="normal" fill="#e4e4e4" stroke="#e4e4e4" stroke-width="0.45" textLength="51.64" lengthAdjust="spacingAndGlyphs">40,000.0</text>
<text x="1103.20" y="643.1" font-size="12.7" font-weight="normal" fill="#e4e4e4" stroke="#e4e4e4" stroke-width="0.45" textLength="51.64" lengthAdjust="spacingAndGlyphs">30,000.0</text>
<text x="1102.95" y="701.61" font-size="12.7" font-weight="normal" fill="#e4e4e4" stroke="#e4e4e4" stroke-width="0.45" textLength="51.89" lengthAdjust="spacingAndGlyphs">20,000.0</text>
<text x="1102.45" y="760.12" font-size="12.7" font-weight="normal" fill="#e4e4e4" stroke="#e4e4e4" stroke-width="0.45" textLength="52.40" lengthAdjust="spacingAndGlyphs">10,000.0</text>
<text x="1101.95" y="823.05" font-size="12.7" font-weight="normal" fill="#e4e4e4" stroke="#e4e4e4" stroke-width="0.45" textLength="33.99" lengthAdjust="spacingAndGlyphs">90.00</text>
<text x="1101.95" y="874.18" font-size="12.7" font-weight="normal" fill="#e4e4e4" stroke="#e4e4e4" stroke-width="0.45" textLength="33.99" lengthAdjust="spacingAndGlyphs">80.00</text>
<text x="1101.95" y="925.3" font-size="12.7" font-weight="normal" fill="#e4e4e4" stroke="#e4e4e4" stroke-width="0.45" textLength="34.00" lengthAdjust="spacingAndGlyphs">70.00</text>
<text x="1101.95" y="976.43" font-size="12.7" font-weight="normal" fill="#e4e4e4" stroke="#e4e4e4" stroke-width="0.45" textLength="34.00" lengthAdjust="spacingAndGlyphs">60.00</text>
<text x="1101.95" y="1027.55" font-size="12.7" font-weight="normal" fill="#e4e4e4" stroke="#e4e4e4" stroke-width="0.45" textLength="34.00" lengthAdjust="spacingAndGlyphs">50.00</text>
<text x="1102.20" y="1078.68" font-size="12.7" font-weight="normal" fill="#e4e4e4" stroke="#e4e4e4" stroke-width="0.45" textLength="33.75" lengthAdjust="spacingAndGlyphs">40.00</text>
<text x="1101.95" y="1129.8" font-size="12.7" font-weight="normal" fill="#e4e4e4" stroke="#e4e4e4" stroke-width="0.45" textLength="34.00" lengthAdjust="spacingAndGlyphs">30.00</text>
<text x="58.95" y="1189.8" font-size="12.5" font-weight="bold" fill="#f0f0f0" stroke="#f0f0f0" stroke-width="0.25" textLength="30.09" lengthAdjust="spacingAndGlyphs">2023</text>
<text x="183.10" y="1189.8" font-size="12.5" font-weight="bold" fill="#f0f0f0" stroke="#f0f0f0" stroke-width="0.25" textLength="16.88" lengthAdjust="spacingAndGlyphs">Jul</text>
<text x="293.96" y="1189.8" font-size="12.5" font-weight="bold" fill="#f0f0f0" stroke="#f0f0f0" stroke-width="0.25" textLength="29.59" lengthAdjust="spacingAndGlyphs">2024</text>
<text x="417.80" y="1189.8" font-size="12.5" font-weight="bold" fill="#f0f0f0" stroke="#f0f0f0" stroke-width="0.25" textLength="16.88" lengthAdjust="spacingAndGlyphs">Jul</text>
<text x="533.46" y="1189.8" font-size="12.5" font-weight="bold" fill="#f0f0f0" stroke="#f0f0f0" stroke-width="0.25" textLength="29.84" lengthAdjust="spacingAndGlyphs">2025</text>
<text x="657.80" y="1189.8" font-size="12.5" font-weight="bold" fill="#f0f0f0" stroke="#f0f0f0" stroke-width="0.25" textLength="16.88" lengthAdjust="spacingAndGlyphs">Jul</text>
<text x="768.35" y="1189.8" font-size="12.5" font-weight="bold" fill="#f0f0f0" stroke="#f0f0f0" stroke-width="0.25" textLength="30.09" lengthAdjust="spacingAndGlyphs">2026</text>
<text x="892.60" y="1189.8" font-size="12.5" font-weight="bold" fill="#f0f0f0" stroke="#f0f0f0" stroke-width="0.25" textLength="16.88" lengthAdjust="spacingAndGlyphs">Jul</text>
<text x="1002.65" y="1189.8" font-size="12.5" font-weight="bold" fill="#f0f0f0" stroke="#f0f0f0" stroke-width="0.25" textLength="30.34" lengthAdjust="spacingAndGlyphs">2027</text>
<rect x="1092.8" y="1128.8" width="48.3" height="19.9" rx="1" fill="#ffffff"/>
<text x="1102.95" y="1143.5" font-size="12.7" font-weight="normal" fill="#141414" stroke="#141414" stroke-width="0.45" textLength="33.00" lengthAdjust="spacingAndGlyphs">27.35</text>
</svg></body></html>
